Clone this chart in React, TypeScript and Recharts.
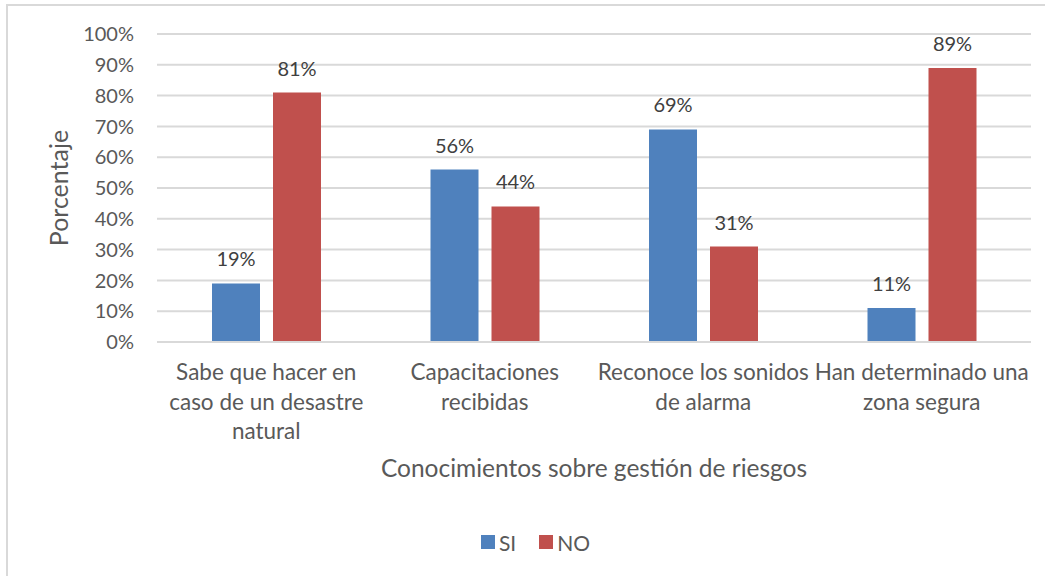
import { Bar, BarChart, CartesianGrid, LabelList, Legend, XAxis, YAxis } from "recharts";

const categories = [
  "Sabe que hacer en\ncaso de un desastre\nnatural",
  "Capacitaciones\nrecibidas",
  "Reconoce los sonidos\nde alarma",
  "Han determinado una\nzona segura",
];
const siValues = [19, 56, 69, 11];
const noValues = [81, 44, 31, 89];
const yTicks = [0, 10, 20, 30, 40, 50, 60, 70, 80, 90, 100];
const seriesLegend = [
  { name: "SI", color: "#4f81bd" },
  { name: "NO", color: "#c0504d" },
];

const data = categories.map((name, i) => ({ name, SI: siValues[i], NO: noValues[i] }));

const FONT = "Lato, 'Open Sans', sans-serif";

const CategoryTick = (props: any) => {
  const { x, y, payload } = props;
  const lines = String(payload.value).split("\n");
  return (
    <g transform={`translate(${x},${y})`}>
      {lines.map((line: string, i: number) => (
        <text
          key={i}
          x={0}
          y={i * 29.5}
          dy={30}
          textAnchor="middle"
          fill="#595959"
          fontSize={22.5}
          fontFamily={FONT}
        >
          {line}
        </text>
      ))}
    </g>
  );
};

const LegendContent = () => (
  <div style={{ height: 24, display: "flex", justifyContent: "center", alignItems: "center", fontFamily: FONT, fontSize: 21, color: "#595959", paddingLeft: 26 }}>
    {seriesLegend.map((s, i) => (
      <div key={s.name} style={{ display: "flex", alignItems: "center", marginLeft: i ? 23 : 0 }}>
        <span style={{ width: 14, height: 14, background: s.color, display: "inline-block", marginRight: 4 }} />
        <span>{s.name}</span>
      </div>
    ))}
  </div>
);

const pct = (v: any) => `${v}%`;

const App = () => {
  return (
    <div style={{ position: "absolute", left: 0, top: 0, width: 1045, height: 576, background: "#fff" }}>
      <div
        style={{
          position: "absolute",
          left: 6,
          top: 4,
          width: 1045,
          height: 576,
          borderLeft: "2px solid #d9d9d9",
          borderTop: "2px solid #d9d9d9",
        }}
      />
      <div style={{ position: "absolute", left: 0, top: 0 }}>
        <BarChart
          width={1045}
          height={576}
          data={data}
          margin={{ top: 34, right: 14, left: 37, bottom: 60 }}
          barGap={13}
          barSize={48}
        >
          <CartesianGrid vertical={false} stroke="#d9d9d9" strokeWidth={2} />
          <XAxis
            dataKey="name"
            tick={<CategoryTick />}
            tickLine={false}
            axisLine={{ stroke: "#d9d9d9", strokeWidth: 2 }}
            height={150}
            interval={0}
            label={{
              value: "Conocimientos sobre gestión de riesgos",
              position: "insideTop",
              offset: 118,
              fill: "#595959",
              fontSize: 24.5,
              fontFamily: FONT,
            }}
          />
          <YAxis
            domain={[0, 100]}
            ticks={yTicks}
            tickFormatter={pct}
            tickLine={false}
            axisLine={false}
            tickSize={0}
            tickMargin={23}
            width={120}
            tick={{ fill: "#595959", fontSize: 20, fontFamily: FONT }}
            label={{
              value: "Porcentaje",
              angle: -90,
              position: "insideLeft",
              offset: 22,
              style: { textAnchor: "middle" },
              fill: "#595959",
              fontSize: 25,
              fontFamily: FONT,
            }}
          />
          <Legend
            verticalAlign="bottom"
            content={<LegendContent />}
            wrapperStyle={{ left: 0, width: 1045, top: 530 }}
          />
          <Bar dataKey="SI" name="SI" fill="#4f81bd" isAnimationActive={false}>
            <LabelList dataKey="SI" position="top" offset={17} formatter={pct} fill="#404040" fontSize={20} fontFamily={FONT} />
          </Bar>
          <Bar dataKey="NO" name="NO" fill="#c0504d" isAnimationActive={false}>
            <LabelList dataKey="NO" position="top" offset={17} formatter={pct} fill="#404040" fontSize={20} fontFamily={FONT} />
          </Bar>
        </BarChart>
      </div>
    </div>
  );
};

export default App;
